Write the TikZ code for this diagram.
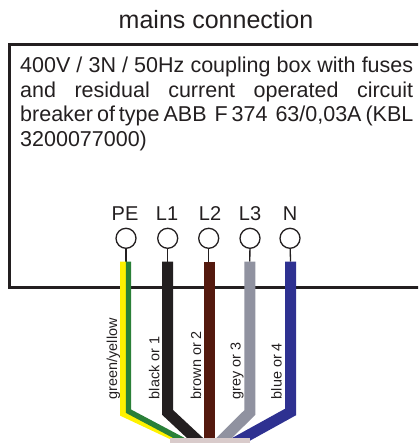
\documentclass[tikz,border=0pt]{standalone}
\usepackage{fontspec}
\setmainfont{Liberation Sans}
\definecolor{ink}{HTML}{231F20}
\definecolor{wyellow}{HTML}{FFF200}
\definecolor{wgreen}{HTML}{2A8038}
\definecolor{wbrown}{HTML}{54190E}
\definecolor{wgrey}{HTML}{9092A0}
\definecolor{wblue}{HTML}{2E3191}
\definecolor{barcol}{HTML}{D9CBCB}
\tikzset{
  x=1pt,y=-1pt,
  terminal/.style={circle,draw=ink,line width=1.3pt,fill=white,minimum size=20pt,inner sep=0pt},
  termlabel/.style={anchor=base,inner sep=0pt,text=ink,font=\fontsize{20}{20}\selectfont},
  stub/.style={draw=ink,line width=1.3pt},
  wire/.style={line width=11pt,line join=miter,miter limit=10},
  wirelabel/.style={rotate=90,anchor=base west,inner sep=0pt,text=ink,font=\fontsize{14.4}{14.4}\selectfont},
}
\newcommand{\fullline}[1]{\makebox[393pt][s]{#1}}
\begin{document}
\begin{tikzpicture}
\useasboundingbox (0,0) rectangle (418,443);
\clip (0,0) rectangle (418,443);
\node[anchor=base,inner sep=0pt,text=ink,font=\fontsize{25}{25}\selectfont] (title) at (216,28.3) {mains connection};
\draw[ink,line width=3.2pt,line join=miter] (420,44.5) -- (9.6,44.5) -- (9.6,287.8) -- (420,287.8);
\node[anchor=base west,inner sep=0pt,text=ink,font=\fontsize{21.5}{24.5}\selectfont] (desc) at (20,72.7) {\parbox[t]{393pt}{\raggedright
\fullline{400V / 3N / 50Hz coupling box with fuses}\\
\fullline{and residual current operated circuit}\\
\fullline{breaker of type ABB\ \ F 374\ \ 63/0,03A (KBL}\\
3200077000)}};
% terminals
\node[terminal] (tPE) at (126,238.3) {};
\node[terminal] (tL1) at (167.7,238.3) {};
\node[terminal] (tL2) at (208.7,238.3) {};
\node[terminal] (tL3) at (250,238.3) {};
\node[terminal] (tN) at (290,238.3) {};
\node[termlabel] (lPE) at (125,220.7) {PE};
\node[termlabel] (lL1) at (167,220.7) {L1};
\node[termlabel] (lL2) at (210,220.7) {L2};
\node[termlabel] (lL3) at (250,220.7) {L3};
\node[termlabel] (lN) at (290,220.7) {N};
% wire tops
\coordinate (wPE) at (126,261.7);
\coordinate (wL1) at (167.7,261.7);
\coordinate (wL2) at (209.5,261.7);
\coordinate (wL3) at (249.8,261.7);
\coordinate (wN) at (290.5,261.7);
\draw[stub] (tPE) -- (wPE);
\draw[stub] (tL1) -- (wL1);
\draw[stub] (tL2) -- (tL2 |- wL2);
\draw[stub] (tL3) -- (wL3);
\draw[stub] (tN) -- (wN);
% wires
\draw[wyellow,line width=6pt,line join=miter] (123,261.7) -- (123,413.7) -- (191.8,446);
\draw[wgreen,line width=5.4pt,line join=miter] (128.5,261.7) -- (128.5,411.2) -- (194,446);
\draw[ink,wire] (wL1) -- (167.7,412.5) -- (203.6,446);
\draw[wbrown,wire] (wL2) -- (209.5,446);
\draw[wgrey,wire] (wL3) -- (249.8,412.5) -- (216,446);
\draw[wblue,wire] (wN) -- (290.5,412) -- (229,446);
\node[fill=barcol,inner sep=0pt,minimum width=80pt,minimum height=8pt,anchor=north west] (bar) at (169.3,438.2) {};
% wire labels
\node[wirelabel] (cPE) at (117,399.3) {green/yellow};
\node[wirelabel] (cL1) at (159.3,399.3) {black or 1};
\node[wirelabel] (cL2) at (201,399.3) {brown or 2};
\node[wirelabel] (cL3) at (240.5,399.3) {grey or 3};
\node[wirelabel] (cN) at (281.7,399.3) {blue or 4};
\end{tikzpicture}
\end{document}
